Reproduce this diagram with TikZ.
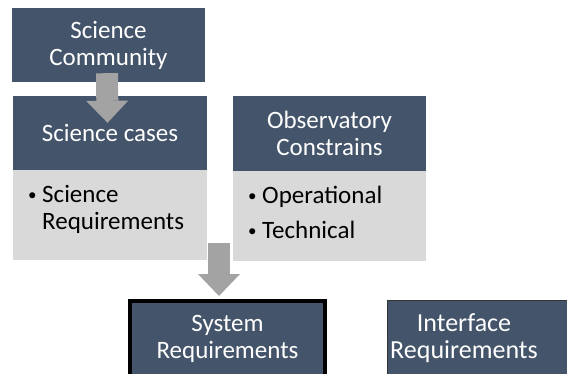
\documentclass[tikz,border=0pt]{standalone}
\usepackage{fontspec}
\setmainfont{Carlito}
\usetikzlibrary{arrows.meta}

\definecolor{hdrblue}{HTML}{44546A}
\definecolor{bodygray}{HTML}{D9D9D9}
\definecolor{arrowgray}{HTML}{A3A3A3}

\newcommand{\bpt}[1]{\makebox[14pt][l]{\raisebox{2pt}{\fontsize{17}{17}\selectfont\textbullet}}#1}

\tikzset{
  hdr/.style={fill=hdrblue, text=white, align=center, inner sep=0pt,
    font=\fontsize{25}{27}\selectfont},
  bodybox/.style={fill=bodygray, align=left, anchor=north west, inner xsep=15pt,
    inner ysep=0pt, minimum width=194pt, minimum height=90pt, text width=164pt,
    text height=16pt, font=\fontsize{25}{27}\selectfont},
  blockarrow/.style={draw=arrowgray, line width=22pt,
    -{Triangle[width=42pt,length=22pt,line width=0pt]}}
}

\begin{document}
\begin{tikzpicture}[x=1pt,y=-1pt]
	\useasboundingbox (0,0) rectangle (567,373);
	\clip (0,0) rectangle (567,373);

	%The upper left boxes
	\node[hdr, minimum width=193pt, minimum height=74pt] (comm) at (108.5,45) {Science\\Community};
	\node[hdr, minimum width=194pt, minimum height=74pt] (cases) at (110,133) {Science cases};
	\node[bodybox, text depth=42pt] (casesbody) at (13,170) {\bpt{Science}\\\hspace*{14pt}Requirements};

	%The observatory box
	\node[hdr, minimum width=193pt, minimum height=75pt] (obs) at (329.5,133.5) {Observatory\\Constrains};
	\node[bodybox, minimum width=193pt, text width=163pt, text depth=41pt] (obsbody) at (233,171) {\bpt{Operational}\\[8pt]\bpt{Technical}};

	%The requirement boxes
	\node[hdr, draw=black, line width=4pt, minimum width=195pt, minimum height=75pt] (sys) at (227.5,338.5) {System\\Requirements};
	\node[hdr, draw=black!80, line width=1pt, minimum width=200pt, minimum height=76pt] (ifc) at (487,338) {};
	\node[text=white, align=center, inner sep=0pt, font=\fontsize{26}{27}\selectfont] (ifctxt) at ([xshift=-23pt]ifc.center) {Interface\\Requirements};

	%The arrows
	\coordinate (a2) at (219,243);
	\draw[blockarrow] ([xshift=-1.5pt,yshift=9pt]comm.south) -- ([xshift=-2.5pt,yshift=-27pt]cases.north);
	\draw[blockarrow] (a2) -- ([yshift=3pt]a2 |- sys.north);

\end{tikzpicture}
\end{document}
